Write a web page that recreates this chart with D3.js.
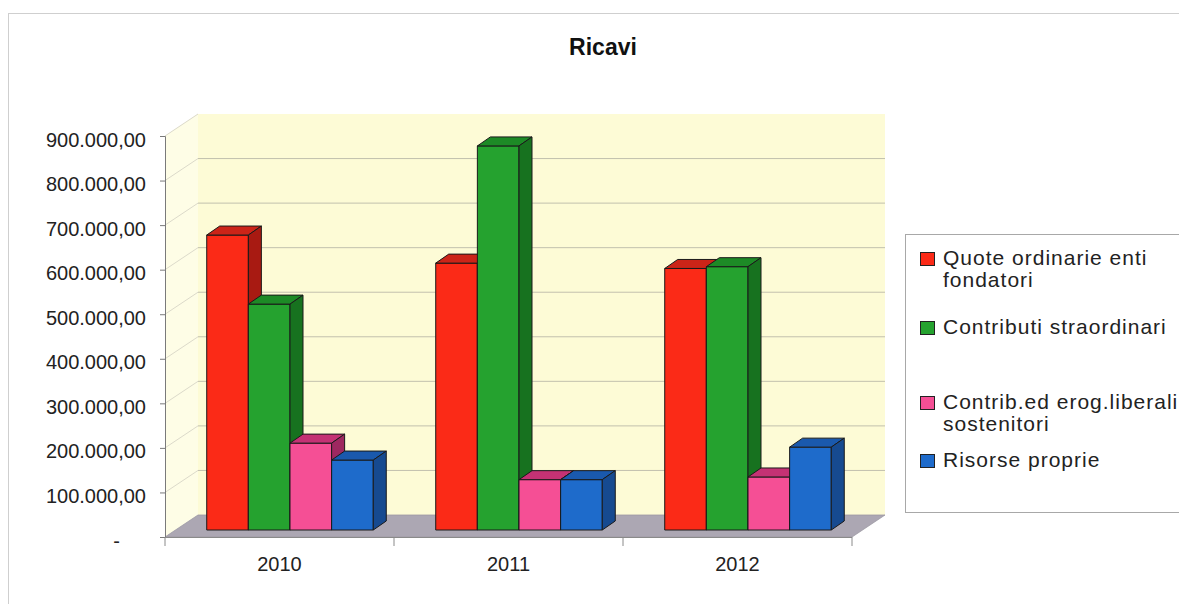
<!DOCTYPE html>
<html>
<head>
<meta charset="utf-8">
<script src="https://cdn.jsdelivr.net/npm/d3@7/dist/d3.min.js"></script>
<style>
  html, body { margin: 0; padding: 0; background: #fff; overflow: hidden; }
  svg { display: block; font-family: "Liberation Sans", Arial, sans-serif; }
</style>
</head>
<body>
<svg id="chart" width="1179" height="604"></svg>
<script>
// ---- data ----
const years = ["2010", "2011", "2012"];
const seriesNames = [
  "Quote ordinarie enti fondatori",
  "Contributi straordinari",
  "Contrib.ed erog.liberali sostenitori",
  "Risorse proprie"
];
const quoteOrdinarie    = [662000, 599000, 587000];
const contributiStraord = [507000, 862000, 591000];
const contribErogLib    = [195000, 113000, 119000];
const risorseProprie    = [157000, 113000, 186000];
const yTicks = [0, 100000, 200000, 300000, 400000, 500000, 600000, 700000, 800000, 900000];

const seriesValues = [quoteOrdinarie, contributiStraord, contribErogLib, risorseProprie];

// face colours per series: front, top, side
const palette = [
  { front: "#fb2a17", top: "#cc2418", side: "#a81a12" },
  { front: "#25a22f", top: "#1d8a26", side: "#17721f" },
  { front: "#f54f95", top: "#c43274", side: "#9e2860" },
  { front: "#1e6bcb", top: "#1a59ad", side: "#164a90" }
];

// ---- layout ----
const svg = d3.select("#chart");
const plotL = 165, plotR = 852, plotB = 537, plotT = 136;
const depth = { dx: 33, dy: -22 };          // full floor depth
const barOff = { dx: 10.5, dy: -7 };        // bar front plane offset
const barDepth = { dx: 13, dy: -9 };        // bar thickness

const y = d3.scaleLinear().domain([0, 900000]).range([plotB, plotT]);

const step = (plotR - plotL) / years.length;
const x0 = d3.scaleBand().domain(years).range([plotL, plotR])
  .paddingInner(1.5 / 5.5).paddingOuter(0.75 / 5.5);
const x1 = d3.scaleBand().domain(d3.range(seriesNames.length)).range([0, x0.bandwidth()]);

// chart area border
svg.append("rect").attr("x", 8.5).attr("y", 13.5).attr("width", 1300).attr("height", 700)
  .attr("fill", "#fff").attr("stroke", "#cfcfcf").attr("stroke-width", 1);

// title
svg.append("text").attr("x", 603).attr("y", 55).attr("text-anchor", "middle")
  .attr("font-size", 23).attr("font-weight", "bold").attr("fill", "#111").text("Ricavi");

const poly = pts => pts.map(p => p.join(",")).join(" ");
const wallFill = "#fdfbd6";

// back wall
svg.append("polygon").attr("points", poly([
  [plotL + depth.dx, y(900000) + depth.dy], [plotR + depth.dx, y(900000) + depth.dy],
  [plotR + depth.dx, plotB + depth.dy], [plotL + depth.dx, plotB + depth.dy]
])).attr("fill", wallFill);

// side wall
svg.append("polygon").attr("points", poly([
  [plotL, y(900000)], [plotL + depth.dx, y(900000) + depth.dy],
  [plotL + depth.dx, plotB + depth.dy], [plotL, plotB]
])).attr("fill", "#fefde6");

// gridlines: back wall + side wall diagonals
const grid = svg.append("g").attr("stroke", "#c2c0ae").attr("stroke-width", 1).attr("fill", "none");
yTicks.filter(t => t > 0 && t < 900000).forEach(t => {
  const yy = y(t);
  grid.append("line").attr("x1", plotL + depth.dx).attr("x2", plotR + depth.dx)
    .attr("y1", yy + depth.dy).attr("y2", yy + depth.dy);
});
yTicks.filter(t => t > 0).forEach(t => {
  const yy = y(t);
  grid.append("line").attr("x1", plotL).attr("y1", yy)
    .attr("x2", plotL + depth.dx).attr("y2", yy + depth.dy).attr("stroke", "#dcdaca");
});

// floor
svg.append("polygon").attr("points", poly([
  [plotL, plotB], [plotR, plotB], [plotR + depth.dx, plotB + depth.dy], [plotL + depth.dx, plotB + depth.dy]
])).attr("fill", "#aca7b3").attr("stroke", "#9c98a2").attr("stroke-width", 0.8);

// bars
const bars = svg.append("g").attr("stroke", "#1a1a1a").attr("stroke-width", 1).attr("stroke-linejoin", "round");
years.forEach((yr, ci) => {
  seriesValues.forEach((vals, si) => {
    const v = vals[ci];
    const xa = x0(yr) + x1(si) + barOff.dx;
    const xb = xa + x1.bandwidth();
    const yt = y(v) + barOff.dy;
    const yb = y(0) + barOff.dy;
    const c = palette[si];
    const g = bars.append("g");
    g.append("polygon").attr("points", poly([[xa, yb], [xa, yt], [xb, yt], [xb, yb]])).attr("fill", c.front);
    g.append("polygon").attr("points", poly([
      [xa, yt], [xa + barDepth.dx, yt + barDepth.dy], [xb + barDepth.dx, yt + barDepth.dy], [xb, yt]
    ])).attr("fill", c.top);
    g.append("polygon").attr("points", poly([
      [xb, yt], [xb + barDepth.dx, yt + barDepth.dy], [xb + barDepth.dx, yb + barDepth.dy], [xb, yb]
    ])).attr("fill", c.side);
  });
});

// y axis
const fmt = d3.formatLocale({ decimal: ",", thousands: ".", grouping: [3], currency: ["", ""] }).format(",.2f");
const yAxis = svg.append("g").attr("transform", `translate(${plotL},0)`)
  .call(d3.axisLeft(y).tickValues(yTicks).tickSize(5).tickPadding(14)
    .tickFormat(d => d === 0 ? "-" : fmt(d)));
yAxis.selectAll("path, line").attr("stroke", "#7a7a7a");
yAxis.selectAll("text").attr("font-size", 20).attr("fill", "#222")
  .attr("font-family", "Liberation Sans, Arial, sans-serif")
  .attr("dy", "0.5em")
  .attr("dx", d => d === 0 ? -26 : 0);

// x axis: labels centred in each category slot of the front plane
const xAxis = svg.append("g").attr("transform", `translate(0,${plotB})`)
  .call(d3.axisBottom(x0).tickSize(0).tickPadding(20));
xAxis.select(".domain").remove();
xAxis.selectAll("text").attr("font-size", 20).attr("fill", "#222")
  .attr("font-family", "Liberation Sans, Arial, sans-serif")
  .attr("transform", d => `translate(${plotL + years.indexOf(d) * step + step / 2 - x0(d) - x0.bandwidth() / 2},0)`);
svg.append("line").attr("x1", plotL).attr("x2", plotR).attr("y1", plotB + 0.5).attr("y2", plotB + 0.5)
  .attr("stroke", "#8a8a8a");
d3.range(years.length + 1).forEach(i => {
  const xx = plotL + i * step;
  svg.append("line").attr("x1", xx).attr("x2", xx).attr("y1", plotB).attr("y2", plotB + 9)
    .attr("stroke", "#8a8a8a");
});

// legend
const legend = svg.append("g");
legend.append("rect").attr("x", 905.5).attr("y", 234.5).attr("width", 400).attr("height", 278)
  .attr("fill", "#fff").attr("stroke", "#a8a8a8");
const legendRowTop = [252, 321, 396, 454];
const maxLine = 240;
seriesNames.forEach((name, i) => {
  const rowTop = legendRowTop[i];
  legend.append("rect").attr("x", 920.5).attr("y", rowTop + 0.5).attr("width", 14).attr("height", 13)
    .attr("fill", palette[i].front).attr("stroke", "#222").attr("stroke-width", 1);
  const txt = legend.append("text").attr("font-size", 21).attr("letter-spacing", 1).attr("fill", "#222");
  const words = name.split(" ");
  let line = [], lineNo = 0;
  let tspan = txt.append("tspan").attr("x", 943).attr("y", rowTop + 13);
  words.forEach(w => {
    line.push(w);
    tspan.text(line.join(" "));
    if (tspan.node().getComputedTextLength() > maxLine && line.length > 1) {
      line.pop();
      tspan.text(line.join(" "));
      line = [w];
      lineNo++;
      tspan = txt.append("tspan").attr("x", 943).attr("y", rowTop + 13 + lineNo * 22).text(w);
    }
  });
});
</script>
</body>
</html>
